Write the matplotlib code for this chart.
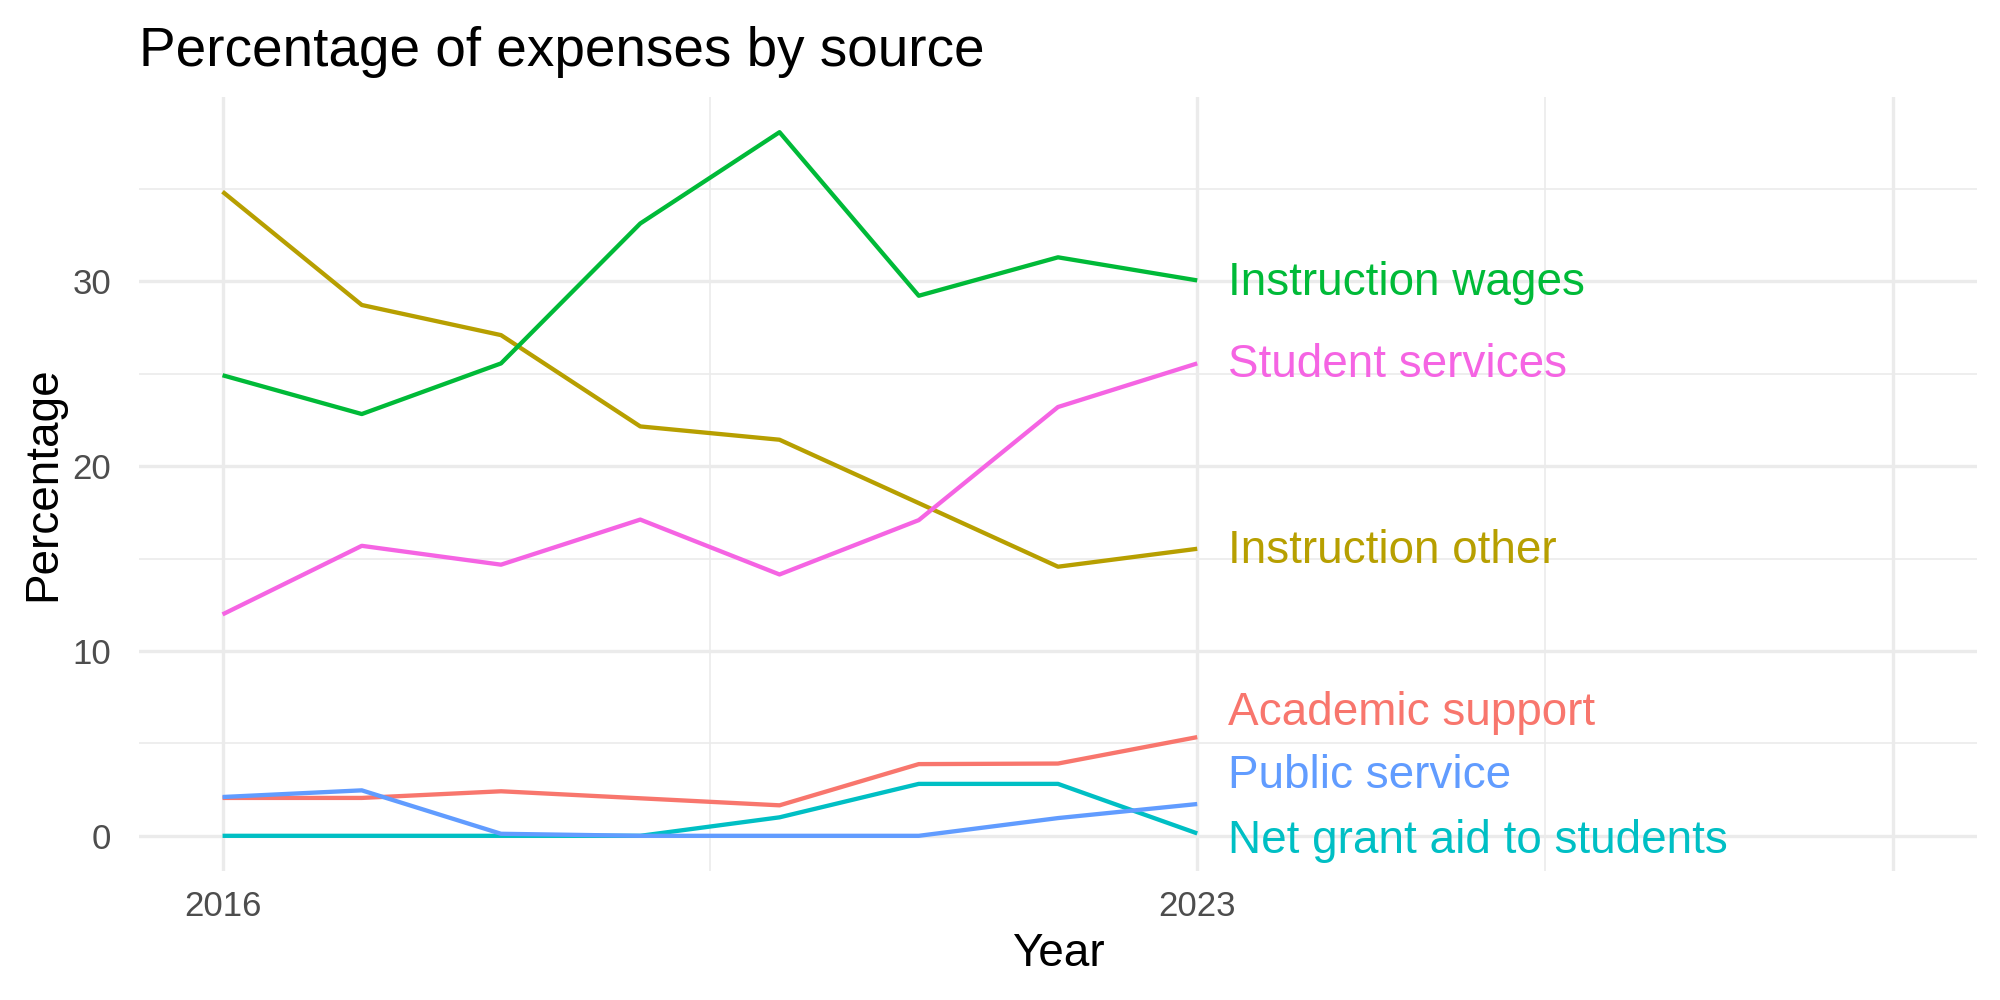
import numpy as np
import matplotlib.pyplot as plt

plt.rcParams['font.family'] = ['Liberation Sans', 'DejaVu Sans']

# --- data ---
years = [2016, 2017, 2018, 2019, 2020, 2021, 2022, 2023]
sources = ["Academic support", "Instruction other", "Instruction wages",
           "Net grant aid to students", "Public service", "Student services"]
academic_support = [2.05, 2.05, 2.41, 2.03, 1.65, 3.88, 3.91, 5.34]
instruction_other = [34.85, 28.72, 27.09, 22.15, 21.43, 18.0, 14.56, 15.53]
instruction_wages = [24.92, 22.82, 25.56, 33.13, 38.07, 29.22, 31.30, 30.05]
net_grant_aid = [0.0, 0.0, 0.0, 0.0, 1.0, 2.81, 2.81, 0.13]
public_service = [2.10, 2.46, 0.11, 0.0, 0.0, 0.0, 0.96, 1.72]
student_services = [11.98, 15.69, 14.67, 17.11, 14.14, 17.08, 23.2, 25.56]
series = [academic_support, instruction_other, instruction_wages,
          net_grant_aid, public_service, student_services]

colors = ["#F8766D", "#B79F00", "#00BA38", "#00BFC4", "#619CFF", "#F564E3"]
# vertical nudges so the end labels don't overlap (repel-like)
label_nudge = [1.33, -0.1, -0.15, -0.41, 1.54, -0.1]

fig = plt.figure(figsize=(20, 10), dpi=100)
ax = fig.add_axes([0.0695, 0.129, 0.919, 0.774])

for vals, col, name, dy in zip(series, colors, sources, label_nudge):
    ax.plot(years, vals, color=col, lw=3.1, solid_capstyle='butt', zorder=3)
    ax.text(years[-1] + 0.22, vals[-1] + dy, name, color=col, fontsize=33,
            ha='left', va='center', zorder=4)

# ggplot-style scales: x limits 2016-2028, 5% expansion
ax.set_xlim(2016 - 0.6, 2028 + 0.6)
ymax = max(max(s) for s in series)
ax.set_ylim(-0.05 * ymax, ymax * 1.05)

ax.set_xticks([2016, 2023, 2028])
ax.set_xticklabels(["2016", "2023", ""])
ax.set_xticks([2019.5, 2025.5], minor=True)
ax.set_yticks([0, 10, 20, 30])
ax.set_yticks([5, 15, 25, 35], minor=True)

ax.grid(which='major', color='#EBEBEB', lw=2.4)
ax.grid(which='minor', color='#EBEBEB', lw=1.2)
ax.set_axisbelow(True)
for s in ax.spines.values():
    s.set_visible(False)
ax.tick_params(which='both', length=0, labelsize=25, labelcolor='#4D4D4D')
ax.tick_params(axis='x', pad=14)
ax.tick_params(axis='y', pad=20)

ax.set_xlabel("Year", fontsize=33, labelpad=6)
ax.set_ylabel("Percentage", fontsize=33, labelpad=5)
ax.set_title("Percentage of expenses by source", fontsize=39.5, loc='left', pad=22)

fig.savefig("out.png", dpi=100)
